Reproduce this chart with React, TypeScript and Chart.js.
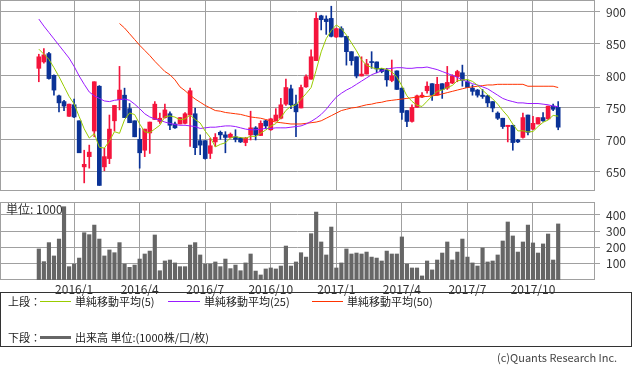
import React, { useEffect, useRef } from "react";
import { Chart, registerables } from "chart.js";

Chart.register(...registerables);

// ---- axis ticks ----
const tickIndex = [7, 20, 33, 46, 59, 72, 85, 98];
const tickLabels = ["2016/1", "2016/4", "2016/7", "2016/10", "2017/1", "2017/4", "2017/7", "2017/10"];
const priceTicks = [650, 700, 750, 800, 850, 900];
const volumeTicks = [100, 200, 300, 400];

// ---- weekly candles (index 0 = week of 2015/11/16) ----
const open = [
  812, 822, 835, 801, 769, 760, 737, 755, 730, 658, 674, 714, 784, 658, 671, 730, 763, 770, 749, 730,
  701, 684, 711, 732, 729, 735, 741, 725, 725, 726, 739, 741, 699, 699, 679, 697, 712, 708, 704, 705,
  703, 696, 708, 719, 707, 730, 716, 730, 734, 756, 780, 756, 750, 783, 795, 824, 894, 889, 890, 861,
  874, 862, 838, 830, 800, 803, 822, 822, 811, 809, 793, 808, 781, 746, 729, 751, 767, 777, 788, 770,
  788, 781, 789, 799, 805, 791, 781, 778, 770, 769, 760, 742, 734, 721, 723, 700, 704, 739, 717, 725,
  735, 733, 753, 751,
];
const high = [
  834, 843, 837, 802, 770, 762, 756, 764, 730, 684, 692, 791, 785, 687, 739, 754, 815, 781, 757, 730,
  718, 717, 728, 760, 742, 756, 744, 728, 735, 743, 781, 750, 708, 699, 703, 710, 714, 713, 711, 716,
  704, 704, 745, 721, 730, 731, 734, 749, 765, 795, 786, 770, 786, 802, 841, 899, 895, 894, 909, 875,
  877, 862, 838, 830, 830, 826, 838, 822, 812, 812, 825, 808, 781, 746, 755, 770, 774, 791, 788, 798,
  788, 815, 802, 809, 817, 794, 786, 779, 779, 770, 760, 744, 734, 723, 723, 701, 742, 739, 737, 735,
  743, 753, 756, 760,
];
const low = [
  791, 820, 795, 770, 744, 746, 737, 735, 680, 633, 656, 705, 629, 652, 663, 714, 747, 735, 727, 705,
  656, 674, 679, 732, 726, 734, 716, 718, 725, 725, 690, 677, 677, 670, 671, 690, 701, 680, 703, 697,
  696, 691, 700, 700, 707, 718, 715, 730, 733, 754, 749, 705, 750, 782, 795, 824, 872, 865, 861, 860,
  861, 817, 817, 797, 800, 803, 812, 805, 805, 784, 791, 779, 732, 721, 728, 751, 766, 773, 762, 770,
  765, 779, 788, 791, 784, 782, 770, 767, 765, 752, 744, 732, 718, 697, 684, 696, 703, 708, 716, 725,
  729, 732, 746, 716,
];
const close = [
  830, 833, 796, 778, 758, 753, 756, 736, 680, 662, 681, 791, 629, 674, 717, 754, 778, 735, 727, 705,
  680, 717, 728, 756, 734, 747, 723, 719, 735, 741, 777, 688, 692, 671, 691, 704, 708, 704, 709, 701,
  697, 703, 719, 708, 726, 722, 733, 739, 755, 782, 755, 744, 782, 799, 830, 890, 888, 885, 862, 874,
  861, 838, 824, 800, 803, 819, 821, 811, 807, 794, 800, 779, 743, 729, 751, 769, 770, 784, 770, 787,
  779, 790, 800, 807, 793, 782, 776, 770, 768, 758, 750, 734, 721, 723, 696, 697, 735, 712, 726, 735,
  730, 753, 748, 720,
];
// volume (1000 shares)
const volume = [
  191, 113, 230, 148, 252, 451, 82, 98, 135, 291, 279, 338, 252, 148, 185, 168, 230, 98, 78, 92,
  129, 160, 178, 277, 57, 117, 123, 105, 82, 82, 215, 230, 154, 98, 98, 111, 82, 129, 70, 92,
  57, 105, 160, 55, 31, 68, 74, 68, 86, 209, 86, 111, 168, 141, 285, 418, 234, 154, 326, 74,
  105, 191, 160, 166, 160, 172, 141, 135, 117, 178, 160, 160, 265, 98, 74, 74, 25, 117, 62, 123,
  166, 234, 123, 172, 252, 141, 105, 86, 197, 111, 117, 154, 240, 357, 271, 172, 234, 338, 228, 166,
  222, 283, 123, 345,
];
// moving averages
const ma5 = [
  842, 834, 826, 813, 799, 783.6, 768.2, 756.2, 736.6, 717.4, 703, 710, 688.6, 687.4, 698.4, 713, 710.4, 731.6, 742.2, 739.8,
  725, 712.8, 711.4, 717.2, 723, 736.4, 737.6, 735.8, 731.6, 733, 739, 732, 726.6, 713.8, 703.8, 689.2, 693.2, 695.6, 703.2, 705.2,
  703.8, 702.8, 705.8, 705.6, 710.6, 715.6, 721.6, 725.6, 735, 746.2, 752.8, 755, 763.6, 772.4, 782, 809, 837.8, 858.4, 871, 879.8,
  874, 864, 851.8, 839.4, 825.2, 816.8, 813.4, 810.8, 812.2, 810.4, 806.6, 798.2, 784.6, 769, 760.4, 754.2, 752.4, 760.6, 768.8, 776,
  778, 782, 785.2, 792.6, 793.8, 794.4, 791.6, 785.6, 777.8, 770.8, 764.4, 756, 746.2, 737.2, 724.8, 714.2, 714.4, 712.6, 713.2, 721,
  727.6, 731.2, 738.4, 737.2,
];
const ma25 = [
  889, 878, 868, 858, 848, 838, 828, 815, 800, 787, 775, 769, 765, 761, 760, 762, 763, 764, 762, 756,
  749, 741, 736, 733, 731, 728, 726, 724, 723, 723, 722, 721, 718, 719, 720, 720, 721, 722, 722, 721,
  719, 717, 716, 716, 717, 718, 718, 719, 719, 719, 720, 721, 722, 725, 729, 734, 740, 748, 758, 767,
  773, 778, 782, 787, 792, 797, 802, 805, 808, 811, 812, 813, 813, 812, 812, 813, 813, 814, 812, 810,
  807, 804, 801, 798, 794, 791, 788, 786, 783, 780, 775, 770, 765, 762, 760, 758, 758, 757, 757, 757,
  756, 755, 753, 752,
];
const ma50 = [
  null, null, null, null, null, null, null, null, null, null, null, null, null, null, null, null, 882, 875, 866, 857,
  848, 840, 832, 823, 815, 807, 802, 794, 783, 777, 770, 764, 759, 754, 750, 746, 745, 743, 742, 741,
  740, 738, 736, 735, 734, 732, 730, 728, 727, 726, 725, 725, 725, 726, 727, 728, 730, 734, 738, 742,
  746, 748, 750, 751, 753, 755, 756, 758, 759, 761, 762, 763, 764, 765, 766, 767, 768, 768, 769, 770,
  772, 774, 776, 778, 780, 782, 783, 784, 785, 786, 786, 787, 787, 787, 787, 787, 787, 784, 784, 784,
  784, 784, 784, 782,
];

const FONT = '"Noto Sans CJK JP", "Noto Sans", sans-serif';
const GRID = "#a0a0a0";
const TEXT = "#333333";
const UP = "#f5143c";
const DOWN = "#0a3296";
const C_MA5 = "#99cc00";
const C_MA25 = "#9a1aff";
const C_MA50 = "#ff3300";
const C_VOL = "#666666";

const candleColor = (ctx: any) => (close[ctx.dataIndex] >= open[ctx.dataIndex] ? UP : DOWN);

const borderPlugin = {
  id: "panelBorder",
  beforeDatasetsDraw(chart: any) {
    const { ctx, chartArea: a } = chart;
    ctx.save();
    ctx.strokeStyle = GRID;
    ctx.lineWidth = 1;
    ctx.strokeRect(
      Math.round(a.left) + 0.5,
      Math.round(a.top) + 0.5,
      Math.round(a.right - a.left) - 1,
      Math.round(a.bottom - a.top) - 1
    );
    ctx.restore();
  },
};

const noPad = (s: any) => {
  s.paddingTop = 0;
  s.paddingBottom = 0;
  s.paddingLeft = 0;
  s.paddingRight = 0;
};

const xAxis = (labels: boolean) => ({
  type: "linear",
  min: -7.7,
  max: 110.3,
  offset: false,
  afterBuildTicks: (s: any) => {
    s.ticks = tickIndex.map((v) => ({ value: v }));
  },
  grid: { color: GRID, lineWidth: 1, drawTicks: false, offset: false },
  border: { display: false },
  ticks: {
    display: labels,
    autoSkip: false,
    maxRotation: 0,
    padding: 2,
    color: TEXT,
    font: { family: FONT, size: 12 },
    callback: (_v: any, i: number) => tickLabels[i],
  },
  afterFit: (s: any) => {
    s.height = labels ? 16 : 0;
    noPad(s);
  },
});

const yAxis = (min: number, max: number, ticks: number[]) => ({
  type: "linear",
  position: "right",
  min,
  max,
  afterBuildTicks: (s: any) => {
    s.ticks = ticks.map((v) => ({ value: v }));
  },
  grid: { color: GRID, lineWidth: 1, drawTicks: true, tickLength: 5 },
  border: { display: false },
  ticks: { padding: 6, color: TEXT, font: { family: FONT, size: 12 } },
  afterFit: (s: any) => {
    s.width = 38;
    noPad(s);
  },
});

const idx = close.map((_, i) => i);

export default function App() {
  const priceRef = useRef<HTMLCanvasElement | null>(null);
  const volRef = useRef<HTMLCanvasElement | null>(null);

  useEffect(() => {
    const common: any = {
      responsive: false,
      maintainAspectRatio: false,
      animation: false,
      devicePixelRatio: 1,
      events: [],
      plugins: { legend: { display: false }, tooltip: { enabled: false } },
    };

    const price = new Chart(priceRef.current as HTMLCanvasElement, {
      type: "bar",
      data: {
        datasets: [
          {
            type: "line",
            data: idx.map((i) => ({ x: i, y: ma5[i] })),
            borderColor: C_MA5,
            borderWidth: 1,
            pointRadius: 0,
            tension: 0,
            order: 0,
          },
          {
            type: "line",
            data: idx.map((i) => ({ x: i, y: ma25[i] })),
            borderColor: C_MA25,
            borderWidth: 1,
            pointRadius: 0,
            tension: 0,
            order: 1,
          },
          {
            type: "line",
            data: idx.map((i) => ({ x: i, y: ma50[i] })),
            borderColor: C_MA50,
            borderWidth: 1,
            pointRadius: 0,
            tension: 0,
            spanGaps: false,
            order: 2,
          },
          {
            type: "bar",
            data: idx.map((i) => ({ x: i, y: [open[i], close[i]] })),
            backgroundColor: candleColor,
            borderWidth: 0,
            barThickness: 4,
            minBarLength: 1,
            grouped: false,
            order: 3,
          },
          {
            type: "bar",
            data: idx.map((i) => ({ x: i, y: [low[i], high[i]] })),
            backgroundColor: candleColor,
            borderWidth: 0,
            barThickness: 1,
            minBarLength: 1,
            grouped: false,
            order: 4,
          },
        ] as any,
      },
      options: {
        ...common,
        layout: { padding: 0 },
        scales: {
          x: xAxis(false),
          y: yAxis(620.3, 918.75, priceTicks),
        } as any,
      },
      plugins: [borderPlugin],
    });

    const vol = new Chart(volRef.current as HTMLCanvasElement, {
      type: "bar",
      data: {
        datasets: [
          {
            data: idx.map((i) => ({ x: i, y: volume[i] })),
            backgroundColor: C_VOL,
            borderWidth: 0,
            barThickness: 3.5,
            grouped: false,
          },
        ] as any,
      },
      options: {
        ...common,
        layout: { padding: { top: 11, left: 0, right: 0, bottom: 0 } },
        scales: {
          x: xAxis(true),
          y: yAxis(0, 480, volumeTicks),
        } as any,
      },
      plugins: [borderPlugin],
    });

    return () => {
      price.destroy();
      vol.destroy();
    };
  }, []);

  const label = (text: string, left: number, cy: number, extra: any = {}) => (
    <span
      style={{
        position: "absolute",
        left,
        top: cy - 8,
        height: 16,
        lineHeight: "16px",
        fontSize: 11,
        fontFamily: FONT,
        color: "#222",
        whiteSpace: "nowrap",
        ...extra,
      }}
    >
      {text}
    </span>
  );
  const swatch = (left: number, cy: number, width: number, h: number, color: string) => (
    <div
      style={{
        position: "absolute",
        left,
        top: cy - Math.floor(h / 2),
        width,
        height: h,
        background: color,
      }}
    />
  );

  return (
    <div
      style={{
        position: "absolute",
        left: 0,
        top: 0,
        width: 633,
        height: 370,
        background: "#fff",
        overflow: "hidden",
      }}
    >
      <canvas
        ref={priceRef}
        width={633}
        height={191}
        style={{ position: "absolute", left: 0, top: 0, width: 633, height: 191 }}
      />
      <canvas
        ref={volRef}
        width={633}
        height={105}
        style={{ position: "absolute", left: 0, top: 191, width: 633, height: 105 }}
      />
      {label("単位: 1000", 6, 209, { fontSize: 12, color: TEXT })}
      <div
        style={{
          position: "absolute",
          left: 0,
          top: 292,
          width: 632,
          height: 55,
          boxSizing: "border-box",
          border: "1px solid #333",
        }}
      />
      {label("上段：", 8, 301)}
      {swatch(40, 301, 31, 1, C_MA5)}
      {label("単純移動平均(5)", 75, 301)}
      {swatch(168, 301, 32, 1, C_MA25)}
      {label("単純移動平均(25)", 204, 301)}
      {swatch(312, 301, 31, 1, C_MA50)}
      {label("単純移動平均(50)", 347, 301)}
      {label("下段：", 8, 337)}
      {swatch(40, 337, 31, 3, C_VOL)}
      {label("出来高 単位:(1000株/口/枚)", 75, 337)}
      {label("(c)Quants Research Inc.", 497, 357, { color: "#444" })}
    </div>
  );
}
